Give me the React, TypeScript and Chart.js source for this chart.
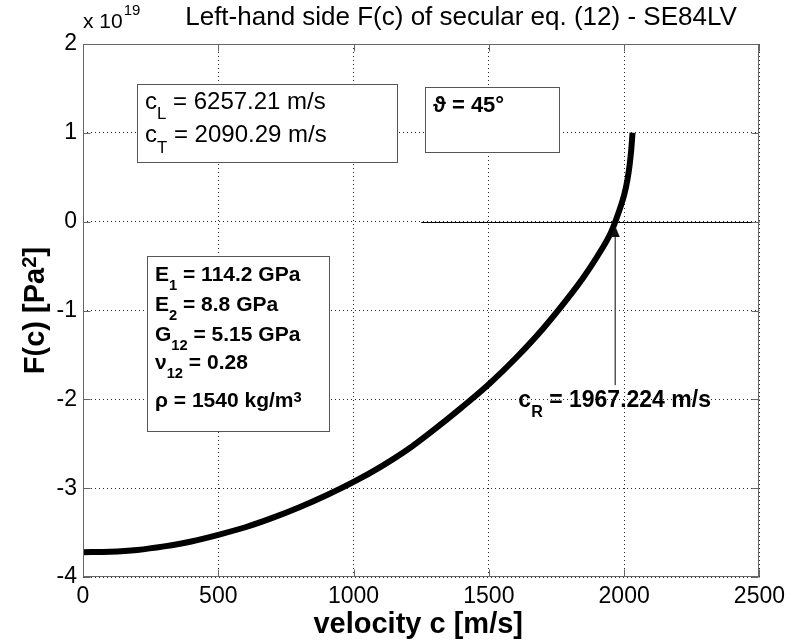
import React, { useEffect, useRef } from "react";
import { Chart, registerables } from "chart.js";

Chart.register(...registerables);

// ---------- data ----------
const velocity = [0, 100, 200, 300, 400, 500, 600, 700, 800, 900, 1000, 1100, 1200, 1300, 1400, 1500, 1600, 1700, 1800, 1850, 1900, 1950, 1967.224, 2000, 2012, 2020, 2026, 2031];
const fValues = [-3.72, -3.715, -3.695, -3.655, -3.6, -3.525, -3.44, -3.335, -3.215, -3.08, -2.93, -2.76, -2.565, -2.335, -2.09, -1.83, -1.535, -1.205, -0.83, -0.625, -0.395, -0.13, 0, 0.3, 0.47, 0.63, 0.8, 1.0];
const xTickValues = [0, 500, 1000, 1500, 2000, 2500];
const yTickValues = [-4, -3, -2, -1, 0, 1, 2];
const rayleighVelocity = 1967.224;
const zeroLineRange = [1250, 2500];

type Seg = { t: string; s?: "sub" | "sup" };

const titleText = "Left-hand side F(c) of secular eq. (12) - SE84LV";
const xAxisTitle = "velocity c [m/s]";
const yAxisTitle: Seg[] = [{ t: "F(c) [Pa" }, { t: "2", s: "sup" }, { t: "]" }];
const exponentBase = "x 10";
const exponentPower = "19";
const rayleighLabel: Seg[] = [{ t: "c" }, { t: "R", s: "sub" }, { t: " = 1967.224 m/s" }];
const waveSpeedLines: Seg[][] = [
  [{ t: "c" }, { t: "L", s: "sub" }, { t: " = 6257.21 m/s" }],
  [{ t: "c" }, { t: "T", s: "sub" }, { t: " = 2090.29 m/s" }],
];
const angleLines: Seg[][] = [[{ t: "ϑ = 45°" }]];
const materialLines: Seg[][] = [
  [{ t: "E" }, { t: "1", s: "sub" }, { t: " = 114.2 GPa" }],
  [{ t: "E" }, { t: "2", s: "sub" }, { t: " = 8.8 GPa" }],
  [{ t: "G" }, { t: "12", s: "sub" }, { t: " = 5.15 GPa" }],
  [{ t: "ν" }, { t: "12", s: "sub" }, { t: " = 0.28" }],
  [{ t: "ρ = 1540 kg/m" }, { t: "3", s: "sup" }],
];

// annotation boxes, corners in data units
const textBoxes = [
  { x0: 200, x1: 1161, yTop: 1.549, yBot: 0.675, lines: waveSpeedLines, offsets: [24, 57.7], size: 24, bold: false },
  { x0: 1263, x1: 1759, yTop: 1.519, yBot: 0.787, lines: angleLines, offsets: [24.3], size: 22, bold: true },
  { x0: 237, x1: 910, yTop: -0.386, yBot: -2.351, lines: materialLines, offsets: [24, 54, 84, 112, 150.7], size: 21, bold: true },
];
const rayleighLabelPos = { x: 1609, y: -2.081 };
const arrowFrom = -1.84;
const arrowTip = -0.05;

const FONT = '"Liberation Sans", Arial, Helvetica, sans-serif';

function richWidth(ctx: CanvasRenderingContext2D, segs: Seg[], size: number, bold: boolean) {
  let w = 0;
  for (const seg of segs) {
    const fs = seg.s ? size * 0.7 : size;
    ctx.font = `${bold ? "bold " : ""}${fs}px ${FONT}`;
    w += ctx.measureText(seg.t).width;
  }
  return w;
}

function drawRich(ctx: CanvasRenderingContext2D, x: number, y: number, segs: Seg[], size: number, bold: boolean) {
  let cx = x;
  for (const seg of segs) {
    let fs = size;
    let dy = 0;
    if (seg.s === "sub") { fs = size * 0.7; dy = size * 0.45; }
    if (seg.s === "sup") { fs = size * 0.7; dy = -size * 0.26; }
    ctx.font = `${bold ? "bold " : ""}${fs}px ${FONT}`;
    ctx.fillText(seg.t, cx, y + dy);
    cx += ctx.measureText(seg.t).width;
  }
}

const decorPlugin = {
  id: "matlabDecor",
  afterDraw(chart: any) {
    const { ctx, chartArea: a, scales } = chart;
    const xs = scales.x;
    const ys = scales.y;
    const px = (v: number) => xs.getPixelForValue(v);
    const py = (v: number) => ys.getPixelForValue(v);
    ctx.save();
    ctx.textAlign = "left";
    ctx.textBaseline = "alphabetic";

    // zero line
    ctx.strokeStyle = "#000";
    ctx.lineWidth = 1;
    const zy = Math.round(py(0)) + 0.5;
    ctx.beginPath();
    ctx.moveTo(px(zeroLineRange[0]), zy);
    ctx.lineTo(px(zeroLineRange[1]), zy);
    ctx.stroke();

    // text boxes
    for (const b of textBoxes) {
      const l = Math.round(px(b.x0)) + 0.5;
      const r = Math.round(px(b.x1)) + 0.5;
      const t = Math.round(py(b.yTop)) + 0.5;
      const bt = Math.round(py(b.yBot)) + 0.5;
      ctx.fillStyle = "#fff";
      ctx.fillRect(l, t, r - l, bt - t);
      ctx.strokeStyle = "#555";
      ctx.lineWidth = 1;
      ctx.strokeRect(l, t, r - l, bt - t);
      ctx.fillStyle = "#000";
      b.lines.forEach((segs, i) => drawRich(ctx, l + 7.5, t + b.offsets[i], segs, b.size, b.bold));
    }

    // arrow
    const ax = px(rayleighVelocity);
    const yFrom = py(arrowFrom);
    const yTip = py(arrowTip);
    ctx.strokeStyle = "#555";
    ctx.lineWidth = 1.5;
    ctx.beginPath();
    ctx.moveTo(ax, yFrom);
    ctx.lineTo(ax, yTip + 9);
    ctx.stroke();
    ctx.fillStyle = "#111";
    ctx.beginPath();
    ctx.moveTo(ax, yTip);
    ctx.lineTo(ax - 4.5, yTip + 11);
    ctx.lineTo(ax + 4.5, yTip + 11);
    ctx.closePath();
    ctx.fill();

    // c_R label
    ctx.fillStyle = "#000";
    drawRich(ctx, px(rayleighLabelPos.x), py(rayleighLabelPos.y), rayleighLabel, 23, true);

    // frame + inward ticks
    const L = Math.round(a.left) + 0.5;
    const R = Math.round(a.right) - 0.5;
    const T = Math.round(a.top) + 0.5;
    const B = Math.round(a.bottom) - 0.5;
    ctx.strokeStyle = "#666";
    ctx.lineWidth = 1;
    ctx.strokeRect(L, T, R - L, B - T);
    const tl = 7;
    ctx.beginPath();
    for (const v of xTickValues) {
      const x = Math.round(px(v)) + 0.5;
      ctx.moveTo(x, B); ctx.lineTo(x, B - tl);
      ctx.moveTo(x, T); ctx.lineTo(x, T + tl);
    }
    for (const v of yTickValues) {
      const y = Math.round(py(v)) + 0.5;
      ctx.moveTo(L, y); ctx.lineTo(L + tl, y);
      ctx.moveTo(R, y); ctx.lineTo(R - tl, y);
    }
    ctx.stroke();

    // title
    ctx.fillStyle = "#000";
    ctx.font = `26px ${FONT}`;
    ctx.textAlign = "center";
    ctx.fillText(titleText, 461, 25);

    // exponent
    ctx.textAlign = "left";
    ctx.font = `21px ${FONT}`;
    ctx.fillText(exponentBase, a.left, 28);
    const ew = ctx.measureText(exponentBase).width;
    ctx.font = `15px ${FONT}`;
    ctx.fillText(exponentPower, a.left + ew + 1, 15);

    // x axis title
    ctx.font = `bold 29px ${FONT}`;
    ctx.textAlign = "center";
    ctx.fillText(xAxisTitle, (a.left + a.right) / 2 - 3, 633);

    // y axis title
    ctx.textAlign = "left";
    const yw = richWidth(ctx, yAxisTitle, 29, true);
    ctx.translate(44, (a.top + a.bottom) / 2);
    ctx.rotate(-Math.PI / 2);
    drawRich(ctx, -yw / 2, 0, yAxisTitle, 29, true);

    ctx.restore();
  },
};

export default function App() {
  const ref = useRef<HTMLCanvasElement | null>(null);
  useEffect(() => {
    if (!ref.current) return;
    const tickFont = { family: FONT, size: 23 };
    const chart = new Chart(ref.current, {
      type: "line",
      data: {
        datasets: [
          {
            data: velocity.map((v, i) => ({ x: v, y: fValues[i] })),
            borderColor: "#000",
            borderWidth: 6,
            pointRadius: 0,
            fill: false,
            cubicInterpolationMode: "monotone",
          },
        ],
      },
      options: {
        responsive: false,
        animation: false,
        events: [],
        devicePixelRatio: 1,
        layout: { padding: { top: 44, right: 26, left: 0, bottom: 0 } },
        plugins: { legend: { display: false }, tooltip: { enabled: false }, title: { display: false } },
        scales: {
          x: {
            type: "linear",
            min: 0,
            max: 2500,
            afterBuildTicks: (s: any) => { s.ticks = xTickValues.map((v) => ({ value: v })); },
            afterFit: (s: any) => { s.height = 63; },
            ticks: { font: tickFont, color: "#000", padding: 6, maxRotation: 0, callback: (v: any) => String(v) },
            grid: { color: "rgba(0,0,0,0.85)", lineWidth: 1, drawTicks: false },
            border: { display: false, dash: [1, 3] },
          },
          y: {
            type: "linear",
            min: -4,
            max: 2,
            afterBuildTicks: (s: any) => { s.ticks = yTickValues.map((v) => ({ value: v })); },
            afterFit: (s: any) => { s.width = 83; },
            ticks: { font: tickFont, color: "#000", padding: 6, callback: (v: any) => String(v) },
            grid: { color: "rgba(0,0,0,0.85)", lineWidth: 1, drawTicks: false },
            border: { display: false, dash: [1, 3] },
          },
        },
      },
      plugins: [decorPlugin],
    } as any);
    return () => chart.destroy();
  }, []);
  return (
    <div style={{ position: "fixed", left: 0, top: 0, width: 791, height: 640, background: "#fff" }}>
      <canvas ref={ref} width={791} height={640} style={{ display: "block" }} />
    </div>
  );
}
